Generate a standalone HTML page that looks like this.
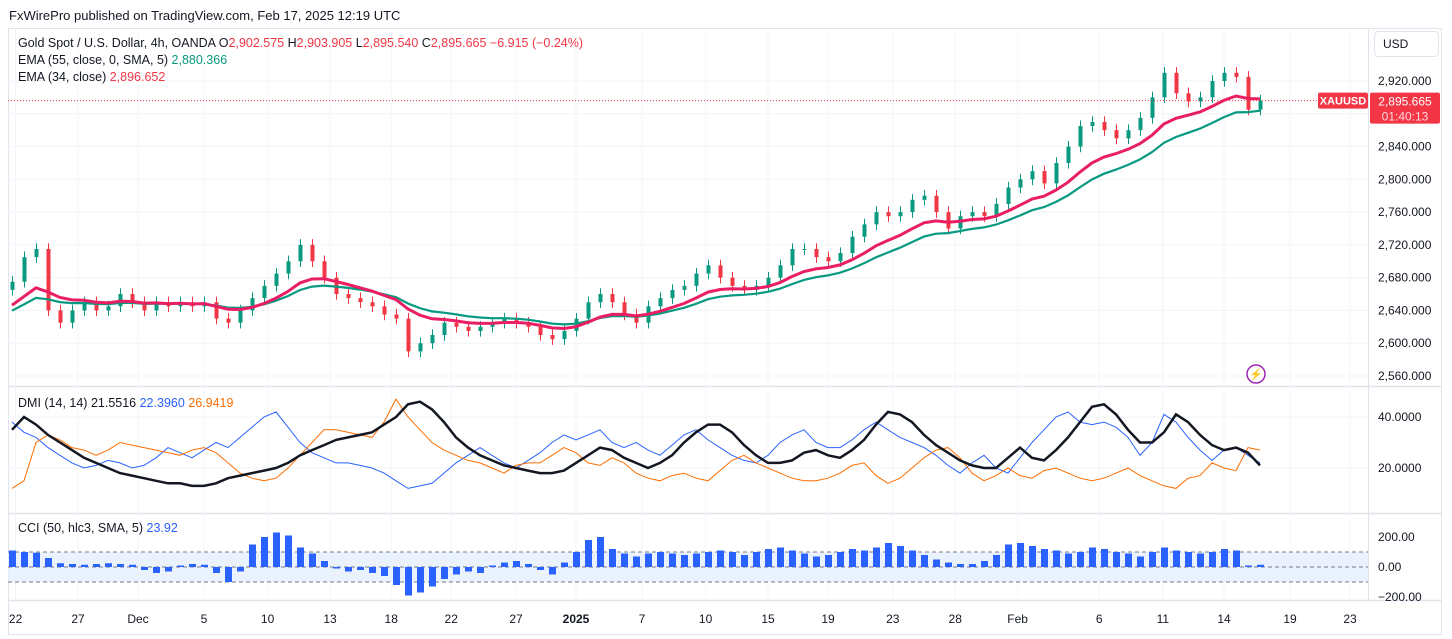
<!DOCTYPE html>
<html><head><meta charset="utf-8">
<style>
body{margin:0;background:#fff;font-family:"Liberation Sans",sans-serif;}
#wrap{position:relative;width:1452px;height:639px;overflow:hidden;background:#fff}
svg text{font-family:"Liberation Sans",sans-serif}
</style></head>
<body>
<div id="wrap">
<svg id="c" width="1452" height="639" xmlns="http://www.w3.org/2000/svg">
<text x="9" y="20" font-size="13" fill="#131722">FxWirePro published on TradingView.com, Feb 17, 2025 12:19 UTC</text>
<g id="grid"></g>
<g id="main"></g>
<g id="dmi"></g>
<g id="cci"></g>
<g id="axes"></g>
<g font-size="12.5">
<text x="18" y="47" fill="#131722">Gold Spot / U.S. Dollar, 4h, OANDA  <tspan fill="#131722">O</tspan><tspan fill="#f23645">2,902.575</tspan>  <tspan fill="#131722">H</tspan><tspan fill="#f23645">2,903.905</tspan>  <tspan fill="#131722">L</tspan><tspan fill="#f23645">2,895.540</tspan>  <tspan fill="#131722">C</tspan><tspan fill="#f23645">2,895.665  −6.915 (−0.24%)</tspan></text>
<text x="18" y="64" fill="#131722">EMA (55, close, 0, SMA, 5)  <tspan fill="#089981">2,880.366</tspan></text>
<text x="18" y="81" fill="#131722">EMA (34, close)  <tspan fill="#f23645">2,896.652</tspan></text>
<text x="18" y="407" fill="#131722">DMI (14, 14)  <tspan fill="#131722">21.5516</tspan>  <tspan fill="#2962ff">22.3960</tspan>  <tspan fill="#ff6d00">26.9419</tspan></text>
<text x="18" y="532" fill="#131722">CCI (50, hlc3, SMA, 5)  <tspan fill="#2962ff">23.92</tspan></text>
</g>
</svg>
</div>
<script>
const closes=[2675,2705,2715,2640,2625,2640,2650,2640,2645,2660,
2650,2640,2650,2645,2650,2645,2650,2630,2625,2640,
2655,2670,2685,2700,2720,2700,2680,2660,2655,2650,
2645,2635,2630,2590,2600,2610,2625,2620,2615,2620,
2625,2630,2625,2620,2610,2605,2615,2630,2650,2660,
2650,2635,2625,2645,2655,2665,2670,2685,2695,2680,
2670,2665,2670,2680,2695,2715,2715,2705,2700,2710,
2730,2745,2760,2755,2760,2775,2780,2760,2740,2755,
2760,2755,2770,2790,2800,2810,2795,2820,2840,2865,
2870,2860,2850,2860,2875,2900,2930,2905,2895,2900,
2920,2930,2925,2885,2896];
const adx=[35,40,37,33,30,27,24,22,20,18,17,16,15,14,14,13,13,14,16,17,
18,19,20,22,25,27,29,31,32,33,34,37,40,45,46,43,38,32,28,25,
23,21,20,19,18,18,19,22,25,28,27,24,22,20,22,25,30,34,37,37,
34,29,25,22,22,23,26,27,25,24,27,31,37,42,41,38,33,29,26,23,
21,20,20,24,28,24,23,27,32,38,44,45,41,35,30,30,34,41,38,33,29,27,28,26,21];
const diPlus=[38,34,32,28,25,22,20,21,23,22,20,21,24,28,26,24,27,30,28,32,
36,40,42,36,30,26,24,22,22,21,20,18,15,12,13,14,18,22,25,28,
25,22,20,23,26,30,33,31,33,35,30,28,30,27,25,29,33,35,31,28,
25,23,22,25,30,33,35,30,28,28,31,35,38,35,32,30,28,25,21,18,
22,25,20,18,24,30,35,40,42,38,37,38,36,32,25,30,41,38,32,27,23,27,28,25,22];
const diMinus=[12,15,30,33,31,28,27,25,27,30,29,28,27,26,25,27,28,26,22,18,
16,15,16,20,25,30,35,35,34,33,32,38,47,40,35,30,27,25,23,22,
20,18,21,22,22,25,28,26,22,21,24,22,18,16,15,17,18,16,15,19,
23,25,22,20,18,16,15,15,16,18,21,22,17,14,16,20,24,27,28,24,
18,15,17,20,17,16,19,20,18,16,15,16,18,20,17,15,13,12,16,17,22,20,19,28,27];
const cciVals=[110,100,95,60,25,20,15,20,25,20,15,-20,-40,-30,10,20,15,-40,-100,-30,
150,200,230,210,130,90,40,-10,-30,-20,-40,-60,-120,-190,-170,-130,-80,-50,-30,-40,
10,30,40,20,-20,-50,30,100,180,200,120,90,70,90,100,90,80,90,100,110,
100,80,100,120,130,110,90,70,80,100,120,110,130,160,140,110,80,50,30,20,
20,40,80,150,160,140,120,110,90,100,130,120,100,90,70,100,130,110,100,90,100,120,110,10,15];
const priceTicks=[2560,2600,2640,2680,2720,2760,2800,2840,2880,2920];
const dmiTicks=[20,40];
const cciTicks=[-200,0,200];
const dateLabels=["22","27","Dec","5","10","13","18","22","27","2025","7","10","15","19","23","28","Feb","6","11","14","19","23"];
const dateBarIdx=[0.3,5.5,10.5,16,21.3,26.5,31.6,36.6,42,47,52.5,57.8,63,68,73.4,78.6,83.8,90.6,95.9,101,106.5,111.5];
const lastPriceText="2,895.665";

const NS="http://www.w3.org/2000/svg";
function mk(tag,attrs,parent){const e=document.createElementNS(NS,tag);for(const k in attrs)e.setAttribute(k,attrs[k]);parent.appendChild(e);return e;}
const X=i=>12+12*i;
const PY=p=>81+(2920-p)*0.8194;
const DY=v=>468-(v-20)*2.55;
const CY=v=>567-v*0.15;
const grid=document.getElementById('grid'),main=document.getElementById('main'),dmi=document.getElementById('dmi'),cci=document.getElementById('cci'),axes=document.getElementById('axes');

let f=mk('rect',{x:8.5,y:28.5,width:1433,height:606,fill:'none',stroke:'#e0e3eb'},grid);


[386.5,513.5,600.5].forEach(y=>{const l=mk('line',{x1:8,x2:1441,y1:y,y2:y,stroke:'#e0e3eb','stroke-width':1.5},grid);

});
const ax=mk('line',{x1:1368.5,x2:1368.5,y1:28,y2:600,stroke:'#e0e3eb'},grid);



dateLabels.forEach((lab,k)=>{const x=X(dateBarIdx[k]);
 const l=mk('line',{x1:x,x2:x,y1:29,y2:600,stroke:'#f2f4f8'},grid);
 
 
 const t=mk('text',{x:x,y:623,'font-size':12,'text-anchor':'middle',fill:'#131722','font-weight':lab==='2025'?'bold':'normal'},axes);
 t.textContent=lab;
 
 });
priceTicks.forEach(p=>{const y=PY(p);
 const l=mk('line',{x1:8,x2:1368,y1:y,y2:y,stroke:'#f2f4f8'},grid);
 
 
 const t=mk('text',{x:1378,y:y+4,'font-size':12,fill:'#131722'},axes);
 t.textContent=p.toLocaleString('en-US')+'.000';
 
 });
dmiTicks.forEach(v=>{const y=DY(v);
 const l=mk('line',{x1:8,x2:1368,y1:y,y2:y,stroke:'#f2f4f8'},grid);
 
 
 const t=mk('text',{x:1378,y:y+4,'font-size':12,fill:'#131722'},axes);
 t.textContent=v.toFixed(4);
 
 });
const band=mk('rect',{x:8,y:CY(100),width:1360,height:CY(-100)-CY(100),fill:'#e3effd',opacity:0.8},cci);


[100,0,-100].forEach(v=>{const l=mk('line',{x1:8,x2:1368,y1:CY(v),y2:CY(v),stroke:'#787b86','stroke-dasharray':'4,3','stroke-width':1},cci);
 
 });
cciTicks.forEach(v=>{const t=mk('text',{x:1378,y:CY(v)+4,'font-size':12,fill:'#131722'},axes);
 t.textContent=(v<0?'−':'')+Math.abs(v).toFixed(2);
 
 });

closes.forEach((c,i)=>{const o=i?closes[i-1]:c-10;const up=c>=o;const col=up?'#089981':'#f23645';
 const x=X(i)+0.5;const hi=Math.max(o,c)+7,lo=Math.min(o,c)-7;
 const w=mk('line',{x1:x,x2:x,y1:PY(hi),y2:PY(lo),stroke:col},main);
 
 
 const b=mk('rect',{x:x-2,y:PY(Math.max(o,c)),width:4,height:Math.max(1,Math.abs(PY(o)-PY(c))),fill:col},main);
 
 });
function ema(arr,n,seed){const k=2/(n+1);let e=seed;return arr.map(v=>(e=v*k+e*(1-k)));}
function path(vals,fy){return vals.map((v,i)=>(i?'L':'M')+X(i).toFixed(1)+','+fy(v).toFixed(1)).join('');}
const e55=mk('path',{d:path(ema(closes,16,2635),PY),fill:'none',stroke:'#089981','stroke-width':2.2},main);


const e34=mk('path',{d:path(ema(closes,10,2640),PY),fill:'none',stroke:'#e91e63','stroke-width':3},main);


const lp=closes[closes.length-1],ly=PY(lp);
const dl=mk('line',{x1:8,x2:1368,y1:ly,y2:ly,stroke:'#f23645','stroke-dasharray':'1,2'},main);


const sym=mk('rect',{x:1318,y:ly-8,width:50,height:16,fill:'#f23645',rx:2},axes);


let t=mk('text',{x:1343,y:ly+4,'font-size':11,'text-anchor':'middle',fill:'#fff','font-weight':'bold'},axes);t.textContent='XAUUSD';


const pb=mk('rect',{x:1370,y:ly-8,width:70,height:31,fill:'#f23645',rx:2},axes);


t=mk('text',{x:1405,y:ly+5,'font-size':12,'text-anchor':'middle',fill:'#fff'},axes);t.textContent=lastPriceText;


t=mk('text',{x:1405,y:ly+20,'font-size':12,'text-anchor':'middle',fill:'#ffd6d9'},axes);t.textContent='01:40:13';


const usd=mk('rect',{x:1374.5,y:31.5,width:64,height:25,rx:4,fill:'#fff',stroke:'#e0e3eb'},axes);


t=mk('text',{x:1383,y:48,'font-size':12,fill:'#131722'},axes);t.textContent='USD';


const ic=mk('circle',{cx:1256,cy:374,r:9,fill:'#fff',stroke:'#9c27b0','stroke-width':1.5},main);


t=mk('text',{x:1256,y:378,'font-size':11,'text-anchor':'middle',fill:'#9c27b0'},main);t.textContent='⚡';


const pdi=mk('path',{d:path(diPlus,DY),fill:'none',stroke:'#2962ff','stroke-width':1},dmi);


const mdi=mk('path',{d:path(diMinus,DY),fill:'none',stroke:'#ff6d00','stroke-width':1},dmi);


const ad=mk('path',{d:path(adx,DY),fill:'none',stroke:'#131722','stroke-width':2.5},dmi);


cciVals.forEach((v,i)=>{const y0=CY(0),y1=CY(v);
 const r=mk('rect',{x:X(i)-3,y:Math.min(y0,y1),width:7,height:Math.max(1,Math.abs(y1-y0)),fill:'#2962ff'},cci);
 
 });
</script>
</body></html>
